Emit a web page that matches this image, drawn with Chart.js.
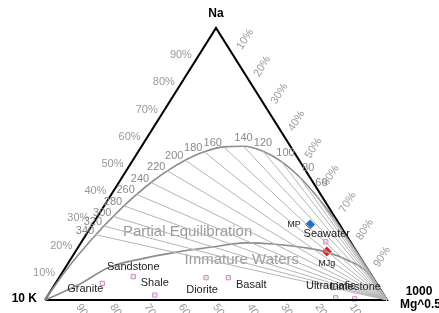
<!DOCTYPE html>
<html>
<head>
<meta charset="utf-8">
<script src="https://cdn.jsdelivr.net/npm/chart.js@4"></script>
<style>
  body { margin: 0; background: #fff; }
  #wrap { width: 439px; height: 313px; overflow: hidden; }
</style>
</head>
<body>
<div id="wrap"><canvas id="ternary" width="439" height="313"></canvas></div>
<script>
// Na-K-Mg ternary (Giggenbach). All values in %, K = 100 - Na - Mg

// full equilibrium curve, one point per temperature (°C)
const eqTemps = [1000, 700, 500, 400, 380, 360, 340, 320, 300, 280, 260, 240, 220, 200, 180, 160, 140, 120, 100, 80, 60, 40, 20, 0, -20, -40];
const eqNa = [2.2, 4.5, 10.0, 16.9, 18.9, 21.3, 24.0, 27.2, 30.7, 34.6, 38.8, 43.2, 47.5, 51.4, 54.5, 56.3, 56.5, 54.7, 50.9, 45.3, 38.3, 30.6, 22.7, 15.6, 9.7, 5.4];
const eqMg = [0.0, 0.2, 0.6, 1.5, 1.9, 2.3, 2.9, 3.6, 4.6, 5.8, 7.4, 9.4, 12.0, 15.3, 19.3, 24.1, 29.8, 36.4, 43.7, 51.7, 60.2, 68.8, 77.0, 84.4, 90.3, 94.6];

// temperatures that get a label / a line to the Mg corner
const labelTemps = [340, 320, 300, 280, 260, 240, 220, 200, 180, 160, 140, 120, 100, 80, 60];
const tieTemps = [340, 320, 300, 280, 260, 240, 220, 200, 180, 160, 140, 120, 100, 80, 60, 40, 20];

// immature waters line
const immNa = [0, 5.5, 12.1, 15.4, 17.7, 19.5, 21.0, 20.6, 19.1, 17.6, 14.7, 10.3, 3.0, 0];
const immMg = [0, 6.9, 12.9, 21.5, 30.1, 39.1, 48.0, 56.4, 67.1, 73.6, 81.0, 89.0, 96.6, 100];

// rocks
const rockNames = ['Granite', 'Sandstone', 'Shale', 'Diorite', 'Basalt', 'Ultramafic', 'Limestone', 'Seawater'];
const rockNa = [6.1, 8.6, 1.8, 8.2, 8.2, 0.8, 0.4, 21.4];
const rockMg = [13.7, 21.5, 31.2, 43.0, 49.5, 84.6, 90.3, 71.4];

// samples
const sampleNames = ['MP', 'MJg'];
const sampleNa = [27.8, 17.8];
const sampleMg = [63.6, 73.5];

const pctTicks = [10, 20, 30, 40, 50, 60, 70, 80, 90];

function toXY(na, mg) {
    return { x: (mg + na / 2) / 100, y: na / 100 };
}

// label placement (pixels)
const rockLabelOffset = {
    Granite: [-17, 6], Sandstone: [0, -10], Shale: [0, -12], Diorite: [-4, 12], Basalt: [23, 7],
    Ultramafic: [-5, -12], Limestone: [1, -12], Seawater: [1, -8], MP: [-16, 0], MJg: [0, 12]
};
function tempLabelOffset(t) {
    if (t >= 160) return [-11, -4];
    if (t >= 120) return [0, -8];
    if (t === 100) return [4, -9];
    if (t === 80) return [9, -9];
    return [5, -13];
}

const eqPoints = [{ x: 0, y: 0 }].concat(eqNa.map((na, i) => toXY(na, eqMg[i])), [{ x: 1, y: 0 }]);
const immPoints = immNa.map((na, i) => toXY(na, immMg[i]));

const datasets = [];

tieTemps.forEach(t => {
    const i = eqTemps.indexOf(t);
    datasets.push({
        type: 'line',
        data: [toXY(eqNa[i], eqMg[i]), { x: 1, y: 0 }],
        borderColor: '#b4b4b4',
        borderWidth: 1,
        pointRadius: 0,
        clip: false
    });
});

datasets.push({
    type: 'line',
    data: eqPoints,
    borderColor: '#8c8c8c',
    borderWidth: 1.6,
    pointRadius: 0,
    cubicInterpolationMode: 'monotone',
    clip: false
});
datasets.push({
    type: 'line',
    data: immPoints,
    borderColor: '#8c8c8c',
    borderWidth: 1.6,
    pointRadius: 0,
    cubicInterpolationMode: 'monotone',
    clip: false
});

// triangle frame
datasets.push({
    type: 'line',
    data: [{ x: 0, y: 0 }, { x: 1, y: 0 }, { x: 0.5, y: 1 }, { x: 0, y: 0 }],
    borderColor: '#000',
    borderWidth: 2,
    pointRadius: 0,
    clip: false
});

datasets.push({
    type: 'scatter',
    data: rockNa.map((na, i) => toXY(na, rockMg[i])),
    pointStyle: 'rect',
    pointRadius: 3,
    borderWidth: 1,
    borderColor: '#c88cc4',
    backgroundColor: '#f4e6f3',
    clip: false
});
datasets.push({
    type: 'scatter',
    data: [toXY(sampleNa[0], sampleMg[0])],
    pointStyle: 'rectRot',
    pointRadius: 5,
    borderWidth: 0,
    backgroundColor: '#1f6fc8',
    clip: false
});
datasets.push({
    type: 'scatter',
    data: [toXY(sampleNa[1], sampleMg[1])],
    pointStyle: 'rectRot',
    pointRadius: 5,
    borderWidth: 0,
    backgroundColor: '#f01818',
    clip: false
});

const textPlugin = {
    id: 'ternaryText',
    beforeDatasetsDraw(chart) {
        const c = chart.ctx, sx = chart.scales.x, sy = chart.scales.y;
        const px = p => [sx.getPixelForValue(p.x), sy.getPixelForValue(p.y)];
        c.save();
        c.fillStyle = '#9a9a9a';
        c.font = '15px Arial, "Liberation Sans", sans-serif';
        c.textAlign = 'center';
        c.textBaseline = 'middle';
        let q = px(toXY(25.0, 29.2));
        c.fillText('Partial Equilibration', q[0], q[1]);
        q = px(toXY(14.7, 50.2));
        c.fillText('Immature Waters', q[0], q[1]);
        c.restore();
    },
    afterDraw(chart) {
        const c = chart.ctx, sx = chart.scales.x, sy = chart.scales.y;
        const px = p => [sx.getPixelForValue(p.x), sy.getPixelForValue(p.y)];
        const K = px({ x: 0, y: 0 }), M = px({ x: 1, y: 0 }), A = px({ x: 0.5, y: 1 });
        const leftAng = Math.atan2(A[1] - K[1], A[0] - K[0]);
        const rightAng = Math.atan2(M[1] - A[1], M[0] - A[0]);
        const el = Math.hypot(M[0] - A[0], M[1] - A[1]);
        const e = [(M[0] - A[0]) / el, (M[1] - A[1]) / el];
        const n = [e[1], -e[0]];

        c.save();
        c.font = '11px Arial, "Liberation Sans", sans-serif';
        c.fillStyle = '#999';
        pctTicks.forEach(p => {
            // Na on left edge
            let q = px(toXY(p, 0));
            c.textAlign = 'right';
            c.textBaseline = 'middle';
            c.fillText(p + '%', q[0] - 7, q[1]);
            // Mg on right edge
            q = px(toXY(100 - p, p));
            const cx = q[0] + 18.7 * n[0] - 7 * e[0];
            const cy = q[1] + 18.7 * n[1] - 7 * e[1];
            c.save();
            c.translate(cx, cy);
            c.rotate(leftAng);
            c.textAlign = 'center';
            c.fillText(p + '%', 0, 0);
            c.restore();
            // K on bottom edge
            q = px(toXY(0, 100 - p));
            c.save();
            c.translate(q[0] - 1, q[1] + 5);
            c.rotate(rightAng);
            c.textAlign = 'left';
            c.fillText(p + '%', 0, 0);
            c.restore();
        });

        // temperature labels
        c.fillStyle = '#8a8a8a';
        c.textAlign = 'center';
        c.textBaseline = 'middle';
        labelTemps.forEach(t => {
            const i = eqTemps.indexOf(t);
            const q = px(toXY(eqNa[i], eqMg[i]));
            const o = tempLabelOffset(t);
            c.fillText(String(t), q[0] + o[0], q[1] + o[1]);
        });

        // rock and sample labels
        c.fillStyle = '#222';
        rockNames.forEach((name, i) => {
            const q = px(toXY(rockNa[i], rockMg[i]));
            const o = rockLabelOffset[name];
            c.fillText(name, q[0] + o[0], q[1] + o[1]);
        });
        c.font = '9px Arial, "Liberation Sans", sans-serif';
        sampleNames.forEach((name, i) => {
            const q = px(toXY(sampleNa[i], sampleMg[i]));
            const o = rockLabelOffset[name];
            c.fillText(name, q[0] + o[0], q[1] + o[1]);
        });

        // corner labels
        c.fillStyle = '#000';
        c.font = 'bold 12px Arial, "Liberation Sans", sans-serif';
        c.textAlign = 'center';
        c.fillText('Na', A[0], A[1] - 14);
        c.textAlign = 'right';
        c.fillText('10 K', K[0] - 8, K[1] - 1);
        c.textAlign = 'center';
        c.fillText('1000', M[0] + 32, M[1] - 8);
        c.textAlign = 'left';
        c.fillText('Mg^0.5', M[0] + 13, M[1] + 5);
        c.restore();
    }
};

const chart = new Chart(document.getElementById('ternary'), {
    type: 'scatter',
    data: { datasets: datasets },
    options: {
        responsive: false,
        animation: false,
        layout: { padding: { left: 45, right: 52, top: 28, bottom: 13 } },
        scales: {
            x: { type: 'linear', min: 0, max: 1, display: false },
            y: { type: 'linear', min: 0, max: 1, display: false }
        },
        plugins: {
            legend: { display: false },
            tooltip: { enabled: false }
        }
    },
    plugins: [textPlugin]
});
</script>
</body>
</html>
